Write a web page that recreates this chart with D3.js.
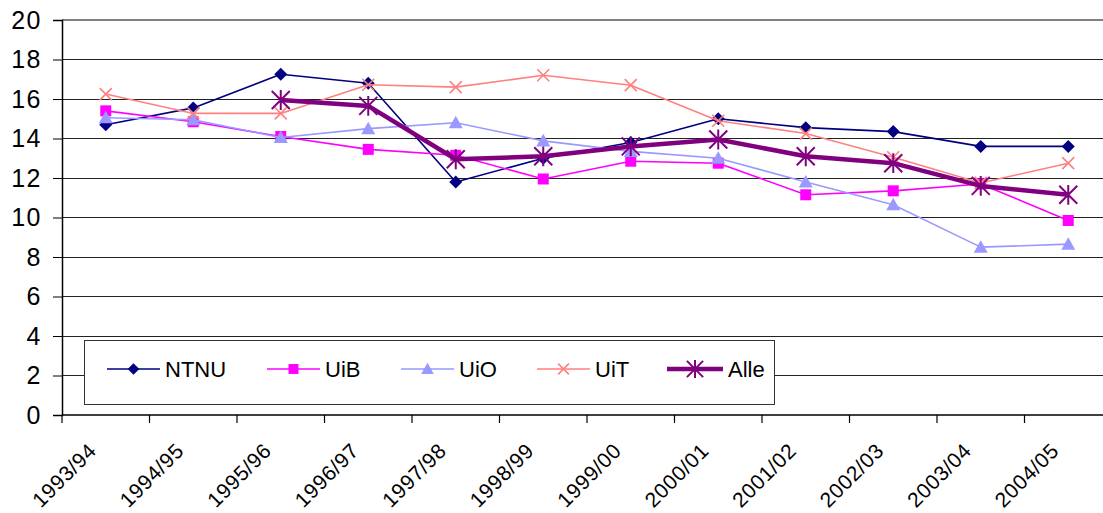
<!DOCTYPE html>
<html>
<head>
<meta charset="utf-8">
<script src="https://cdn.jsdelivr.net/npm/d3@7"></script>
<style>
  html, body { margin: 0; padding: 0; background: #fff; }
  svg { display: block; font-family: Arial, "Liberation Sans", Helvetica, sans-serif; }
</style>
</head>
<body>
<svg id="chart" width="1103" height="513"></svg>
<script>
// Academic years on the category axis
const years = ["1993/94", "1994/95", "1995/96", "1996/97", "1997/98", "1998/99",
               "1999/00", "2000/01", "2001/02", "2002/03", "2003/04", "2004/05"];

// Values per institution (null = no value for that year)
const ntnu = [14.7, 15.55, 17.25, 16.8, 11.8, 13.0, 13.8, 15.0, 14.55, 14.35, 13.6, 13.6];
const uib  = [15.4, 14.85, 14.1, 13.45, 13.15, 11.95, 12.85, 12.75, 11.15, 11.35, 11.7, 9.85];
const uio  = [15.05, 14.95, 14.05, 14.5, 14.8, 13.88, 13.35, 13.0, 11.8, 10.65, 8.5, 8.65];
const uit  = [16.25, 15.27, 15.27, 16.72, 16.6, 17.2, 16.7, 14.9, 14.25, 13.05, 11.75, 12.75];
const alle = [null, null, 15.95, 15.65, 12.95, 13.1, 13.6, 13.95, 13.1, 12.75, 11.6, 11.15];

const yTicks = [0, 2, 4, 6, 8, 10, 12, 14, 16, 18, 20];

const series = [
  { name: "NTNU", values: ntnu, color: "#000080", width: 1.6, marker: "diamond" },
  { name: "UiB",  values: uib,  color: "#FF00FF", width: 1.6, marker: "square" },
  { name: "UiO",  values: uio,  color: "#9999FF", width: 1.6, marker: "triangle" },
  { name: "UiT",  values: uit,  color: "#FF8080", width: 1.6, marker: "cross" },
  { name: "Alle", values: alle, color: "#800080", width: 4.5, marker: "star" }
];

const svg = d3.select("#chart");
const plotLeft = 62, plotTop = 20, plotBottom = 415, plotRight = 62 + 12 * 87.5;

const x = d3.scaleBand().domain(years).range([plotLeft, plotRight]);
const y = d3.scaleLinear().domain([0, 20]).range([plotBottom, plotTop]);
const cx = d => x(d) + x.bandwidth() / 2;

// Horizontal gridlines
svg.append("g").selectAll("line")
  .data(yTicks.filter(t => t > 0))
  .join("line")
  .attr("x1", plotLeft).attr("x2", 1103)
  .attr("y1", d => y(d)).attr("y2", d => y(d))
  .attr("stroke", d => d === 20 ? "#808080" : "#222")
  .attr("stroke-width", d => d === 20 ? 2 : 1)
  .attr("shape-rendering", "crispEdges");

// Y axis
const yAxis = d3.axisLeft(y).tickValues(yTicks).tickSize(9).tickPadding(11);
const gy = svg.append("g").attr("transform", `translate(${plotLeft},0)`).call(yAxis);
gy.select(".domain").attr("stroke", "#000").attr("stroke-width", 1.5);
gy.selectAll(".tick line").attr("stroke", "#000");
gy.selectAll(".tick text")
  .attr("font-size", 25).attr("fill", "#000")
  .attr("letter-spacing", 1.5)
  .attr("font-family", "Arial, 'Liberation Sans', sans-serif");

// X axis: ticks sit on the category boundaries
const boundaries = d3.range(years.length + 1).map(i => plotLeft + i * x.step());
svg.append("line")
  .attr("x1", plotLeft).attr("x2", 1103).attr("y1", plotBottom).attr("y2", plotBottom)
  .attr("stroke", "#000").attr("stroke-width", 1.5);
svg.append("g").selectAll("line")
  .data(boundaries)
  .join("line")
  .attr("x1", d => d).attr("x2", d => d)
  .attr("y1", plotBottom).attr("y2", plotBottom + 8)
  .attr("stroke", "#000").attr("stroke-width", 1.2);

svg.append("g").selectAll("text")
  .data(years)
  .join("text")
  .attr("transform", d => `translate(${cx(d) - 8},452) rotate(-45)`)
  .attr("text-anchor", "end")
  .attr("font-size", 21)
  .attr("letter-spacing", 0.6)
  .attr("fill", "#000")
  .text(d => d);

// Marker shapes
function drawMarker(g, type, color, px, py, scale = 1) {
  if (type === "diamond") {
    const s = 6.5 * scale;
    g.append("path")
      .attr("d", `M${px},${py - s}L${px + s},${py}L${px},${py + s}L${px - s},${py}Z`)
      .attr("fill", color);
  } else if (type === "square") {
    const s = 5.5 * scale;
    g.append("rect").attr("x", px - s).attr("y", py - s)
      .attr("width", 2 * s).attr("height", 2 * s).attr("fill", color);
  } else if (type === "triangle") {
    const s = 7 * scale;
    g.append("path")
      .attr("d", `M${px},${py - s}L${px + s},${py + s * 0.8}L${px - s},${py + s * 0.8}Z`)
      .attr("fill", color);
  } else if (type === "cross") {
    const s = 6 * scale;
    g.append("path")
      .attr("d", `M${px - s},${py - s}L${px + s},${py + s}M${px - s},${py + s}L${px + s},${py - s}`)
      .attr("stroke", color).attr("stroke-width", 1.6).attr("fill", "none");
  } else if (type === "star") {
    const s = 9 * scale;
    g.append("path")
      .attr("d", `M${px - s},${py - s}L${px + s},${py + s}M${px - s},${py + s}L${px + s},${py - s}M${px},${py - s * 1.1}L${px},${py + s * 1.1}`)
      .attr("stroke", color).attr("stroke-width", 2).attr("fill", "none");
  }
}

// Series lines and markers
const line = d3.line()
  .defined(d => d.v !== null)
  .x(d => cx(d.year))
  .y(d => y(d.v));

series.forEach(s => {
  const pts = years.map((yr, i) => ({ year: yr, v: s.values[i] }));
  const g = svg.append("g");
  g.append("path")
    .datum(pts)
    .attr("d", line)
    .attr("fill", "none")
    .attr("stroke", s.color)
    .attr("stroke-width", s.width)
    .attr("stroke-linejoin", "round");
  pts.filter(p => p.v !== null)
    .forEach(p => drawMarker(g, s.marker, s.color, cx(p.year), y(p.v)));
});

// Legend
const legend = svg.append("g");
legend.append("rect")
  .attr("x", 84.5).attr("y", 340.5).attr("width", 690).attr("height", 64)
  .attr("fill", "#fff").attr("stroke", "#333").attr("stroke-width", 1);

const legendPos = [107, 267, 401, 537, 667];
const ly = 369;
series.forEach((s, i) => {
  const x0 = legendPos[i];
  const lineLen = i === 4 ? 56 : 53;
  const g = legend.append("g");
  g.append("line")
    .attr("x1", x0).attr("x2", x0 + lineLen).attr("y1", ly).attr("y2", ly)
    .attr("stroke", s.color).attr("stroke-width", s.width);
  drawMarker(g, s.marker, s.color, x0 + lineLen / 2, ly, 0.9);
  g.append("text")
    .attr("x", x0 + lineLen + 5).attr("y", ly)
    .attr("dy", "0.36em")
    .attr("font-size", 22)
    .attr("fill", "#000")
    .text(s.name);
});
</script>
</body>
</html>
